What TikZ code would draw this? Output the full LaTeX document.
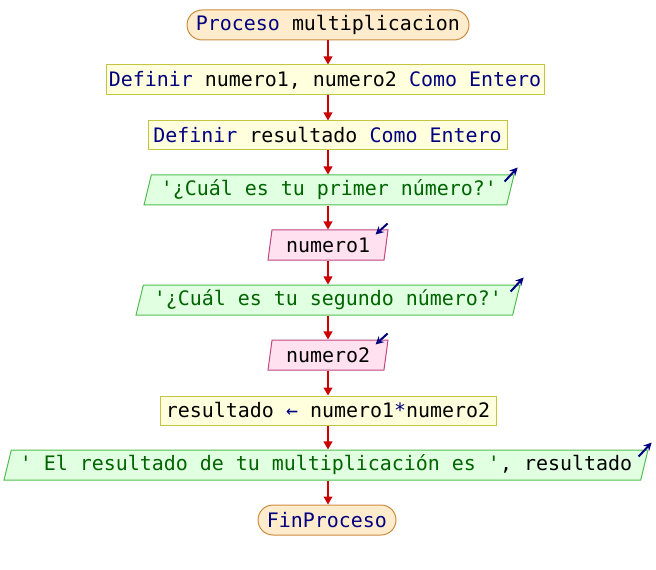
\documentclass[tikz,border=0pt]{standalone}
\usepackage{fontspec}
\setmonofont{DejaVu Sans Mono}
\usetikzlibrary{shapes.geometric,arrows.meta,calc}
\definecolor{conncol}{RGB}{204,0,0}
\definecolor{kw}{RGB}{0,0,128}
\definecolor{str}{RGB}{0,100,0}
\definecolor{termfill}{RGB}{255,236,204}
\definecolor{termdraw}{RGB}{204,140,64}
\definecolor{procfill}{RGB}{255,255,221}
\definecolor{procdraw}{RGB}{196,196,64}
\definecolor{outfill}{RGB}{225,255,225}
\definecolor{outdraw}{RGB}{80,190,80}
\definecolor{infill}{RGB}{255,225,240}
\definecolor{indraw}{RGB}{190,70,130}
\newcommand{\kwd}[1]{\textcolor{kw}{#1}}
\newcommand{\strg}[1]{\textcolor{str}{#1}}
\begin{document}
\begin{tikzpicture}[x=0.75pt,y=-0.75pt,
  every node/.style={font=\ttfamily\fontsize{14.95}{18}\selectfont, inner sep=0pt, text=black},
  term/.style={draw=termdraw, fill=termfill, line width=0.75pt, rounded corners=11.25pt, minimum height=22.5pt},
  proc/.style={draw=procdraw, fill=procfill, line width=0.75pt, minimum height=22.5pt},
  outbox/.style={trapezium, trapezium left angle=70, trapezium right angle=110, trapezium stretches body,
    draw=outdraw, fill=outfill, line width=0.75pt, minimum height=22.5pt},
  inbox/.style={trapezium, trapezium left angle=75, trapezium right angle=105, trapezium stretches body,
    draw=indraw, fill=infill, line width=0.75pt, minimum height=22.5pt},
  conn/.style={draw=conncol, line width=1.2pt, -{Triangle[length=6pt,width=6.5pt]}},
  icon/.style={draw=kw, line width=1.5pt, -{Stealth[length=6pt,width=6pt]}}
]
\useasboundingbox (0,0) rectangle (656,570);

\node[term, minimum width=211.5pt] (start) at (328,25) {\kwd{Proceso} multiplicacion};
\node[proc, minimum width=328.5pt] (def1) at (325,80) {\kwd{Definir} numero1, numero2 \kwd{Como Entero}};
\node[proc, minimum width=269.25pt, minimum height=21.75pt] (def2) at (327.5,135.5) {\kwd{Definir} resultado \kwd{Como Entero}};
\node[outbox, minimum width=277.5pt] (out1) at (329,190) {\strg{'¿Cuál es tu primer número?'}};
\node[inbox, minimum width=90pt] (in1) at (328,245) {numero1};
\node[outbox, minimum width=288pt] (out2) at (328,300) {\strg{'¿Cuál es tu segundo número?'}};
\node[inbox, minimum width=90pt] (in2) at (328,355) {numero2};
\node[proc, minimum width=252pt, minimum height=21.75pt] (asg) at (328,410.5) {resultado \kwd{←} numero1\kwd{*}numero2};
\node[outbox, minimum width=483pt] (out3) at (326,465) {\strg{' El resultado de tu multiplicación es '}, resultado};
\node[term, minimum width=103.5pt] (end) at (327,520) {\kwd{FinProceso}};

\foreach \a/\b in {start/def1, def1/def2, def2/out1, out1/in1, in1/out2, out2/in2, in2/asg, asg/out3, out3/end}
  \draw[conn] (\a.south -| start.south) -- (\b.north -| start.south);

\foreach \o in {out1,out2,out3}
  \draw[icon] ($(\o.top right corner)+(-10,7)$) -- ($(\o.top right corner)+(3,-7)$);
\foreach \i in {in1,in2}
  \draw[icon] ($(\i.top right corner)+(-1,-6)$) -- ($(\i.top right corner)+(-13,5)$);
\end{tikzpicture}
\end{document}
